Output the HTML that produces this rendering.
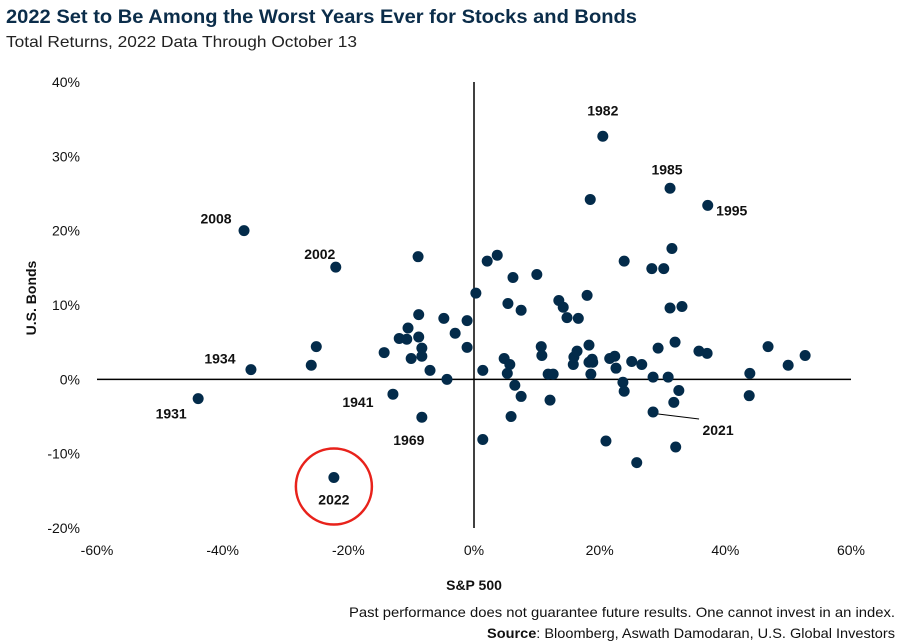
<!DOCTYPE html>
<html><head><meta charset="utf-8"><style>
body{margin:0;background:#fff;font-family:"Liberation Sans",sans-serif;}
#wrap{position:relative;width:900px;height:644px;overflow:hidden;}
</style></head><body>
<div id="wrap">
<svg id="chart" width="900" height="644" xmlns="http://www.w3.org/2000/svg">
<text x="6" y="23" font-size="19" font-weight="bold" fill="#0b2d4a" textLength="631" lengthAdjust="spacingAndGlyphs">2022 Set to Be Among the Worst Years Ever for Stocks and Bonds</text>
<text x="6" y="47" font-size="16" fill="#222" textLength="351" lengthAdjust="spacingAndGlyphs">Total Returns, 2022 Data Through October 13</text>
<g id="axes"></g>
<g id="points"></g>
<g id="labels"></g>
<text x="474" y="590" font-size="14" font-weight="bold" text-anchor="middle" fill="#111">S&amp;P 500</text>
<text transform="translate(36,298) rotate(-90)" font-size="14" font-weight="bold" text-anchor="middle" fill="#111">U.S. Bonds</text>
<text x="349" y="617" font-size="14" fill="#111" textLength="546" lengthAdjust="spacingAndGlyphs">Past performance does not guarantee future results. One cannot invest in an index.</text>
<text x="487" y="638" font-size="14" fill="#111" textLength="408" lengthAdjust="spacingAndGlyphs"><tspan font-weight="bold">Source</tspan>: Bloomberg, Aswath Damodaran, U.S. Global Investors</text>
</svg>
</div>
<script>
const xTicks=[-60,-40,-20,0,20,40,60];
const yTicks=[-20,-10,0,10,20,30,40];
const stockReturns=[20.5,31.2,37.2,18.5,-36.6,-22.0,-8.9,2.1,3.7,6.2,10.0,0.3,5.4,7.5,13.5,14.2,14.8,16.6,18.0,-8.8,-4.8,-1.1,-10.5,-11.9,-10.7,-8.8,-3.0,-14.3,-8.3,-10.0,-8.3,-1.1,-7.0,-4.3,1.4,4.8,5.7,5.3,10.7,10.8,11.8,12.6,15.8,15.9,16.4,18.3,18.3,18.9,18.6,21.6,22.4,22.6,6.5,7.5,12.1,-12.9,-8.3,5.9,1.4,21.0,31.5,23.9,28.3,30.2,31.2,33.1,32.0,29.3,35.8,37.1,46.8,52.7,50.0,18.8,25.1,26.7,28.5,30.9,43.9,23.7,23.9,32.6,31.8,43.8,28.5,32.1,25.9,-43.9,-35.5,-25.9,-25.1,-22.3];
const bondReturns=[32.7,25.7,23.4,24.2,20.0,15.1,16.5,15.9,16.7,13.7,14.1,11.6,10.2,9.3,10.6,9.7,8.3,8.2,11.3,8.7,8.2,7.9,6.9,5.5,5.4,5.7,6.2,3.6,4.2,2.8,3.1,4.3,1.2,0,1.2,2.8,2.0,0.8,4.4,3.2,0.7,0.7,2.0,3.0,3.8,4.6,2.3,2.3,0.7,2.8,3.1,1.5,-0.8,-2.3,-2.8,-2.0,-5.1,-5.0,-8.1,-8.3,17.6,15.9,14.9,14.9,9.6,9.8,5.0,4.2,3.8,3.5,4.4,3.2,1.9,2.7,2.4,2.0,0.3,0.3,0.8,-0.4,-1.6,-1.5,-3.1,-2.2,-4.4,-9.1,-11.2,-2.6,1.3,1.9,4.4,-13.2];
const labelYears=["1982","1985","1995","2008","2002","1934","1931","1941","1969","2021","2022"];
const labelX=[20.5,31.2,37.2,-36.6,-22.0,-35.5,-43.9,-12.9,-8.3,28.5,-22.3];
const labelY=[32.7,25.7,23.4,20.0,15.1,1.3,-2.6,-2.0,-5.1,-4.4,-13.2];
const labelOff=[[0,-26],[-3,-19],[24,5],[-28,-12],[-16,-13],[-31,-11],[-27,15],[-35,8],[-13,23],[65,18],[0,22]];
const X0=97,X1=851,Y0=528,Y1=82;
const xs=v=>X0+(v-(-60))/120*(X1-X0);
const ys=v=>Y0-(v-(-20))/60*(Y0-Y1);
const NS="http://www.w3.org/2000/svg";
function mk(tag,parent){const e=document.createElementNS(NS,tag);parent.appendChild(e);return e;}
const axes=document.getElementById('axes');
const xa=mk('line',axes);


xa.setAttribute('x1',X0);xa.setAttribute('x2',X1);xa.setAttribute('y1',ys(0));xa.setAttribute('y2',ys(0));xa.setAttribute('stroke','#000');xa.setAttribute('stroke-width','1.5');
const ya=mk('line',axes);


ya.setAttribute('x1',xs(0));ya.setAttribute('x2',xs(0));ya.setAttribute('y1',Y1);ya.setAttribute('y2',Y0);ya.setAttribute('stroke','#000');ya.setAttribute('stroke-width','1.5');
xTicks.forEach(t=>{const e=mk('text',axes);


e.setAttribute('x',xs(t));e.setAttribute('y',555);e.setAttribute('font-size','14');e.setAttribute('text-anchor','middle');e.setAttribute('fill','#111');e.textContent=t+'%';});
yTicks.forEach(t=>{const e=mk('text',axes);


e.setAttribute('x',80);e.setAttribute('y',ys(t)+5);e.setAttribute('font-size','14');e.setAttribute('text-anchor','end');e.setAttribute('fill','#111');e.textContent=t+'%';});
const pts=document.getElementById('points');
stockReturns.forEach((s,i)=>{const c=mk('circle',pts);


c.setAttribute('cx',xs(s));c.setAttribute('cy',ys(bondReturns[i]));c.setAttribute('r','5.5');c.setAttribute('fill','#032b4a');});
const lg=document.getElementById('labels');
labelYears.forEach((y,i)=>{const px=xs(labelX[i]),py=ys(labelY[i]);const o=labelOff[i];
const t=mk('text',lg);


t.setAttribute('x',px+o[0]);t.setAttribute('y',py+o[1]+5);t.setAttribute('font-size','14');t.setAttribute('font-weight','bold');t.setAttribute('text-anchor','middle');t.setAttribute('fill','#111');t.textContent=y;
if(y==='2021'){const l=mk('line',lg);


l.setAttribute('x1',px+5);l.setAttribute('y1',py+2);l.setAttribute('x2',px+46);l.setAttribute('y2',py+7);l.setAttribute('stroke','#000');}
if(y==='2022'){const c=mk('circle',lg);


c.setAttribute('cx',px);c.setAttribute('cy',py+9);c.setAttribute('r','38');c.setAttribute('fill','none');c.setAttribute('stroke','#e8221b');c.setAttribute('stroke-width','2.5');}
});
</script>
</body></html>
